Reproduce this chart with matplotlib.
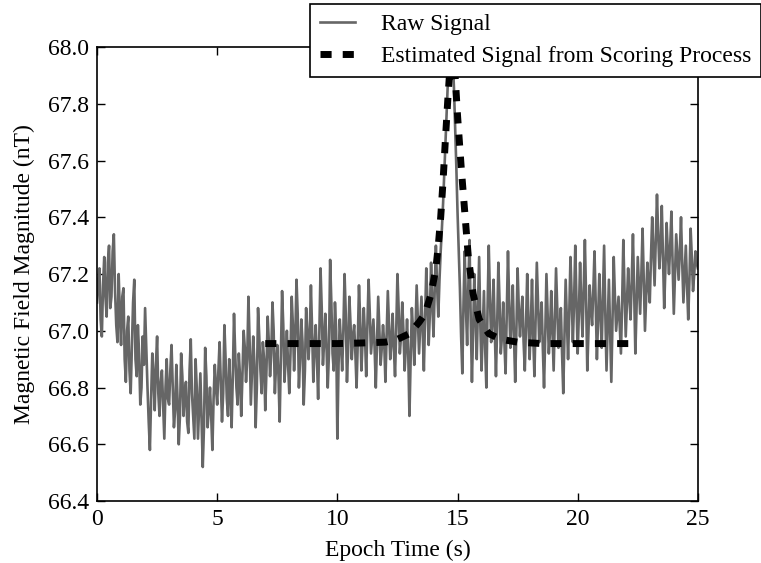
import matplotlib
matplotlib.use("Agg")
import matplotlib.pyplot as plt
import numpy as np

# raw magnetometer samples, 0.05 s apart (20 per row = 1 s)
t_step = 0.05
raw = [
    67.10, 67.18, 67.22, 67.04, 66.98, 67.16, 67.26, 67.12, 67.05, 67.24, 67.30, 67.08, 67.12, 67.28, 67.34, 67.14, 67.02, 66.96, 67.20, 67.06,
    66.95, 67.12, 67.15, 66.90, 66.82, 67.00, 67.05, 66.86, 66.78, 66.94, 67.10, 67.18, 66.90, 66.84, 67.02, 66.92, 66.74, 66.80, 66.98, 66.88,
    67.08, 66.94, 66.80, 66.68, 66.58, 66.76, 66.92, 66.84, 66.72, 66.88, 66.98, 66.78, 66.70, 66.82, 66.86, 66.74, 66.62, 66.80, 66.90, 66.76,
    66.74, 66.86, 66.95, 66.80, 66.66, 66.72, 66.88, 66.76, 66.60, 66.70, 66.92, 66.84, 66.70, 66.78, 66.82, 66.68, 66.64, 66.86, 66.97, 66.78,
    66.70, 66.62, 66.90, 66.80, 66.62, 66.74, 66.85, 66.68, 66.52, 66.66, 66.94, 66.84, 66.66, 66.72, 66.80, 66.70, 66.58, 66.76, 66.88, 66.80,
    66.74, 66.86, 66.96, 66.82, 66.68, 66.78, 67.02, 66.90, 66.76, 66.70, 66.90, 66.80, 66.66, 66.84, 67.06, 66.92, 66.80, 66.74, 66.92, 66.84,
    66.70, 66.84, 67.00, 66.94, 66.82, 66.90, 67.12, 66.96, 66.74, 66.86, 66.98, 66.88, 66.66, 66.80, 67.08, 66.98, 66.86, 66.78, 66.96, 66.90,
    66.72, 66.86, 67.05, 66.96, 66.84, 66.92, 67.10, 67.00, 66.78, 66.88, 66.95, 66.84, 66.68, 66.90, 67.14, 67.02, 66.82, 66.90, 67.00, 66.88,
    66.78, 66.92, 67.12, 67.02, 66.86, 66.98, 67.18, 67.06, 66.80, 66.90, 67.04, 66.96, 66.74, 66.86, 67.08, 67.00, 66.90, 66.98, 67.16, 67.00,
    66.82, 66.94, 67.02, 66.90, 66.76, 66.98, 67.22, 67.08, 66.88, 66.96, 67.06, 66.94, 66.80, 66.92, 67.25, 67.10, 66.92, 66.86, 67.10, 67.00,
    66.62, 66.88, 67.04, 66.96, 66.86, 67.00, 67.20, 67.06, 66.82, 66.94, 67.12, 67.02, 66.90, 66.98, 67.02, 66.92, 66.80, 66.96, 67.16, 67.04,
    66.86, 66.96, 67.08, 66.98, 66.84, 67.02, 67.18, 67.06, 66.92, 66.98, 67.04, 66.94, 66.80, 66.96, 67.12, 67.00, 66.88, 66.94, 67.02, 66.96,
    66.82, 66.98, 67.14, 67.02, 66.90, 66.96, 67.06, 66.94, 66.84, 67.00, 67.20, 67.08, 66.92, 66.98, 67.10, 67.00, 66.86, 66.94, 67.04, 66.92,
    66.70, 66.90, 67.08, 67.00, 66.88, 67.00, 67.16, 67.04, 66.92, 67.02, 67.12, 67.00, 66.86, 67.04, 67.22, 67.10, 66.95, 67.06, 67.24, 67.10,
    66.98, 67.14, 67.30, 67.16, 67.05, 67.18, 67.28, 67.36, 67.45, 67.56, 67.68, 67.78, 67.88, 67.94, 67.98, 68.00, 67.96, 67.86, 67.72, 67.58,
    67.42, 67.28, 67.15, 66.98, 66.85, 67.10, 67.28, 67.08, 66.95, 67.16, 67.32, 67.04, 66.82, 67.00, 67.20, 67.06, 66.90, 67.08, 67.26, 67.02,
    66.86, 67.00, 67.14, 66.94, 66.80, 67.08, 67.30, 67.12, 66.96, 67.04, 67.18, 67.00, 66.84, 67.02, 67.24, 67.10, 66.92, 66.98, 67.10, 66.96,
    66.85, 67.06, 67.28, 67.10, 66.94, 67.04, 67.16, 66.98, 66.82, 67.00, 67.22, 67.08, 66.98, 67.06, 67.12, 66.96, 66.86, 67.02, 67.20, 67.04,
    66.90, 67.02, 67.18, 66.98, 66.84, 67.04, 67.24, 67.10, 66.96, 67.02, 67.10, 66.94, 66.80, 66.98, 67.20, 67.06, 66.92, 67.00, 67.14, 67.00,
    66.86, 67.04, 67.22, 67.08, 66.94, 67.00, 67.08, 66.92, 66.78, 66.98, 67.18, 67.04, 66.90, 67.06, 67.26, 67.12, 66.96, 67.10, 67.30, 67.10,
    66.92, 67.06, 67.24, 67.10, 66.98, 67.14, 67.32, 67.12, 66.86, 67.00, 67.16, 67.08, 67.02, 67.14, 67.28, 67.10, 66.90, 67.04, 67.20, 67.06,
    66.94, 67.12, 67.30, 67.06, 66.86, 67.02, 67.18, 67.00, 66.82, 67.04, 67.26, 67.12, 67.00, 67.06, 67.12, 67.02, 66.92, 67.10, 67.32, 67.14,
    66.98, 67.10, 67.22, 67.12, 67.04, 67.18, 67.34, 67.14, 66.92, 67.08, 67.26, 67.16, 67.06, 67.20, 67.36, 67.18, 67.00, 67.12, 67.24, 67.16,
    67.10, 67.26, 67.40, 67.28, 67.16, 67.32, 67.48, 67.34, 67.22, 67.30, 67.44, 67.26, 67.08, 67.22, 67.38, 67.28, 67.20, 67.30, 67.42, 67.24,
    67.06, 67.20, 67.34, 67.26, 67.18, 67.28, 67.40, 67.24, 67.10, 67.20, 67.30, 67.16, 67.04, 67.18, 67.36, 67.26, 67.14, 67.20, 67.28, 67.24,
    67.22,
]

# estimated signal from the scoring process
est_t = [7.0, 8.0, 9.0, 10.0, 11.0, 12.0, 12.5, 13.0, 13.4, 13.65, 13.9,
         14.1, 14.2, 14.3, 14.4, 14.5, 14.6, 14.75, 14.9, 15.0, 15.15,
         15.3, 15.45, 15.65, 15.9, 16.3, 16.8, 17.5, 18.5, 20.0, 22.4]
est_v = [66.955, 66.955, 66.955, 66.955, 66.957, 66.96, 66.97, 66.99,
         67.03, 67.06, 67.13, 67.22, 67.30, 67.40, 67.53, 67.68, 67.82,
         68.01, 67.90, 67.76, 67.58, 67.42, 67.26, 67.13, 67.04, 66.99,
         66.97, 66.96, 66.955, 66.955, 66.955]

x_ticks = [0, 5, 10, 15, 20, 25]
y_ticks = [66.4, 66.6, 66.8, 67.0, 67.2, 67.4, 67.6, 67.8, 68.0]

FS = 17
plt.rcParams["font.family"] = ["Liberation Serif", "DejaVu Serif"]
plt.rcParams["font.size"] = FS

fig = plt.figure(figsize=(7.61, 5.63), dpi=100)
ax = fig.add_axes([0.1275, 0.110, 0.7895, 0.8065])

t_raw = np.arange(len(raw)) * t_step
ax.plot(t_raw, raw, color="#666666", lw=1.9, label="Raw Signal")
ax.plot(est_t, est_v, color="black", lw=5, dashes=(1.6, 1.6),
        label="Estimated Signal from Scoring Process")

ax.set_xlim(0, 25)
ax.set_ylim(66.4, 68.0)
ax.set_xticks(x_ticks)
ax.set_yticks(y_ticks)
ax.set_yticklabels([f"{v:.1f}" for v in y_ticks])
ax.tick_params(direction="in", top=True, right=True, length=6, width=1,
               labelsize=FS, pad=6)
for s in ax.spines.values():
    s.set_linewidth(1.2)

ax.set_xlabel("Epoch Time (s)", fontsize=FS, labelpad=7)
ax.set_ylabel("Magnetic Field Magnitude (nT)", fontsize=FS, labelpad=9)

leg = ax.legend(loc="upper right", bbox_to_anchor=(1.0, 1 - 4 / 563),
                bbox_transform=fig.transFigure, borderaxespad=0,
                fancybox=False, framealpha=1, edgecolor="black",
                fontsize=FS, handlelength=1.5, handletextpad=1.1,
                labelspacing=0.45, borderpad=0.4)
leg.get_frame().set_linewidth(1.2)

fig.savefig("out.png", dpi=100)
